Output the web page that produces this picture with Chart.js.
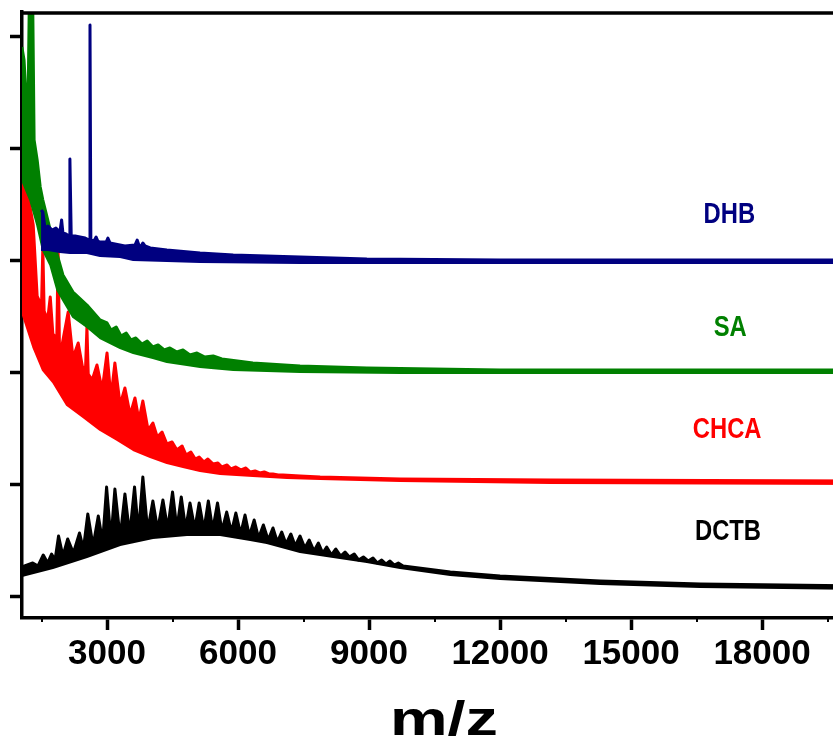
<!DOCTYPE html>
<html>
<head>
<meta charset="utf-8">
<title>MALDI matrix spectra</title>
<script src="https://cdn.jsdelivr.net/npm/chart.js@4.4.1/dist/chart.umd.min.js"></script>
<style>
  html, body { margin: 0; padding: 0; background: #fff; overflow: hidden; }
  #wrap { width: 880px; height: 750px; }
</style>
</head>
<body>
<div id="wrap"><canvas id="spectra" width="880" height="750"></canvas></div>
<script>
// m/z axis
const mzTicks = [3000, 6000, 9000, 12000, 15000, 18000];
const mzMinorTicks = [1500, 4500, 7500, 10500, 13500, 16500, 19500];
const mzTitle = 'm/z';
// offset intensity levels (arbitrary units), one tick per trace baseline step
const levelTicks = [0, 112, 224, 336, 448, 560];

const matrixNames = ['DHB', 'SA', 'CHCA', 'DCTB'];
const matrixColors = ['#000080', '#008000', '#ff0000', '#000000'];
const labelMz = [17250, 17270, 17200, 17220];
const labelLevel = [373, 260, 158, 56];

// each spectrum: upper edge (peaks and noise) and lower edge of the trace, [m/z, intensity]
const dhbTop = [
  [1490, 386], [1530, 384], [1580, 368], [1650, 370], [1740, 366], [1830, 368], [1920, 364],
  [1960, 376], [1990, 363], [2060, 362], [2130, 360], [2150, 437], [2180, 360], [2270, 360],
  [2380, 359], [2500, 358], [2590, 356], [2610, 571], [2630, 356], [2700, 355], [2750, 359],
  [2790, 355], [2840, 354], [2980, 354], [3020, 358], [3070, 353], [3180, 352], [3410, 350],
  [3640, 351], [3690, 356], [3730, 351], [3780, 350], [3820, 353], [3870, 350], [3990, 348],
  [4370, 346], [5130, 343], [5890, 341], [7420, 339], [8950, 337], [12000, 336], [20400, 336]
];
const dhbBase = [
  [1490, 346], [1650, 346], [1920, 344], [2150, 343], [2540, 343], [2840, 340], [3300, 339],
  [3600, 336], [4370, 335], [5130, 334], [7420, 333], [20400, 333]
];

const saTop = [
  [1050, 549], [1100, 536], [1150, 496], [1190, 484], [1230, 630], [1290, 630], [1330, 456],
  [1400, 436], [1470, 409], [1530, 396], [1700, 366], [1860, 341], [1990, 321], [2220, 304],
  [2540, 291], [2840, 276], [3000, 273], [3090, 266], [3210, 269], [3320, 260], [3440, 263],
  [3550, 256], [3660, 258], [3800, 252], [3920, 255], [4050, 249], [4170, 251], [4310, 246],
  [4440, 248], [4600, 244], [4740, 246], [4900, 241], [5060, 243], [5240, 239], [5430, 240],
  [5630, 237], [6340, 233], [7420, 230], [8950, 228], [12000, 226], [20400, 226]
];
const saBase = [
  [1050, 416], [1240, 396], [1400, 371], [1530, 346], [1700, 331], [1860, 306], [1990, 296],
  [2220, 279], [2540, 269], [2840, 258], [3300, 248], [3600, 243], [4050, 238], [4370, 234],
  [4830, 231], [5130, 229], [5890, 226], [7420, 224], [9710, 223], [20400, 223]
];

const chcaTop = [
  [1050, 424], [1190, 401], [1310, 371], [1400, 300], [1500, 290], [1530, 349], [1560, 285],
  [1640, 276], [1700, 299], [1760, 262], [1850, 258], [1880, 346], [1910, 252], [1970, 251],
  [2110, 284], [2220, 238], [2340, 253], [2450, 226], [2510, 230], [2540, 269], [2570, 222],
  [2660, 216], [2770, 231], [2890, 206], [3000, 243], [3090, 198], [3180, 233], [3300, 191],
  [3410, 208], [3530, 181], [3640, 198], [3730, 176], [3820, 195], [3940, 166], [4050, 173],
  [4150, 159], [4260, 164], [4370, 152], [4490, 154], [4600, 146], [4720, 150], [4810, 141],
  [4920, 144], [5020, 137], [5110, 139], [5220, 134], [5310, 137], [5430, 132], [5540, 133],
  [5630, 129], [5750, 131], [5840, 127], [5950, 129], [6070, 126], [6180, 128], [6280, 124],
  [6390, 125], [6500, 123], [6600, 124], [6710, 122], [6800, 122], [6920, 121], [7030, 121],
  [7420, 120], [7880, 119], [9710, 117], [13150, 116], [20400, 115]
];
const chcaBase = [
  [1050, 284], [1310, 249], [1530, 226], [1760, 214], [2080, 191], [2450, 179], [2840, 166],
  [3230, 156], [3600, 146], [3990, 139], [4370, 133], [4740, 129], [5130, 125], [5590, 122],
  [6340, 120], [7120, 118], [7880, 117], [9710, 115], [13150, 113], [20400, 112]
];

const dctbTop = [
  [1050, 29], [1300, 33], [1420, 30], [1540, 41], [1640, 33], [1730, 42], [1810, 36],
  [1890, 60], [1990, 40], [2100, 57], [2230, 43], [2370, 63], [2460, 47], [2560, 82],
  [2680, 50], [2800, 80], [2900, 54], [2990, 109], [3090, 56], [3180, 107], [3300, 58],
  [3410, 102], [3520, 61], [3630, 109], [3720, 63], [3820, 119], [3930, 65], [4050, 95],
  [4160, 66], [4280, 96], [4390, 67], [4500, 104], [4600, 67], [4700, 99], [4800, 67],
  [4900, 93], [5010, 67], [5110, 93], [5220, 66], [5320, 95], [5420, 66], [5530, 93],
  [5630, 65], [5740, 84], [5850, 64], [5950, 83], [6060, 62], [6160, 81], [6260, 60],
  [6370, 76], [6470, 58], [6580, 71], [6690, 56], [6800, 68], [6900, 54], [7000, 64],
  [7100, 52], [7210, 62], [7310, 50], [7420, 60], [7530, 48], [7630, 56], [7740, 45],
  [7840, 53], [7940, 43], [8030, 49], [8140, 41], [8240, 47], [8350, 40], [8450, 44],
  [8550, 39], [8660, 42], [8760, 36], [8870, 39], [8980, 35], [9090, 38], [9190, 33],
  [9290, 36], [9390, 32], [9480, 35], [9580, 31], [9670, 33], [9780, 30], [10860, 24],
  [12000, 20], [14290, 15], [16580, 12], [20400, 10]
];
const dctbBase = [
  [1050, 20], [1760, 28], [2540, 39], [3300, 51], [4050, 58], [4830, 61], [5590, 61],
  [6280, 56], [6660, 53], [7420, 44], [8180, 39], [8950, 34], [9710, 28], [10860, 21],
  [12000, 17], [14290, 12], [16580, 9], [20400, 7]
];

const spectra = [
  [dhbTop, dhbBase],
  [saTop, saBase],
  [chcaTop, chcaBase],
  [dctbTop, dctbBase]
];

// upper edge is filled down to the lower edge so each trace reads as one thick band
const datasets = [];
spectra.forEach(([top, base], i) => {
  const common = {
    borderColor: matrixColors[i],
    backgroundColor: matrixColors[i],
    borderJoinStyle: 'round',
    pointRadius: 0,
    tension: 0
  };
  datasets.push({ ...common, label: matrixNames[i], data: top, borderWidth: 3, fill: '+1' });
  datasets.push({ ...common, label: matrixNames[i] + ' base', data: base, borderWidth: 2, fill: false });
});

const traceLabels = {
  id: 'traceLabels',
  afterDatasetsDraw(chart) {
    const { ctx, scales: { x, y } } = chart;
    ctx.save();
    ctx.font = 'bold 29px "Liberation Sans", Arial, sans-serif';
    ctx.textAlign = 'center';
    ctx.textBaseline = 'alphabetic';
    matrixNames.forEach((name, i) => {
      ctx.save();
      ctx.translate(x.getPixelForValue(labelMz[i]), y.getPixelForValue(labelLevel[i]));
      ctx.scale(0.82, 1);
      ctx.fillStyle = matrixColors[i];
      ctx.fillText(name, 0, 0);
      ctx.restore();
    });
    ctx.restore();
  }
};

// top frame line, small in-between ticks and the wide axis title
const frame = {
  id: 'frame',
  afterDraw(chart) {
    const { ctx, chartArea: a, scales: { x } } = chart;
    ctx.save();
    ctx.strokeStyle = '#000';
    ctx.lineWidth = 3.5;
    ctx.beginPath();
    ctx.moveTo(a.left - 1.75, a.top + 1);
    ctx.lineTo(a.right + 1.75, a.top + 1);
    ctx.stroke();
    ctx.lineWidth = 2;
    ctx.beginPath();
    mzMinorTicks.forEach(v => {
      const px = Math.round(x.getPixelForValue(v));
      ctx.moveTo(px, a.bottom);
      ctx.lineTo(px, a.bottom + 4);
    });
    ctx.stroke();

    ctx.translate((a.left + a.right) / 2, a.bottom + 117);
    ctx.scale(1.35, 1);
    ctx.font = 'bold 48px "Liberation Sans", Arial, sans-serif';
    ctx.textAlign = 'center';
    ctx.textBaseline = 'alphabetic';
    ctx.fillStyle = '#000';
    ctx.fillText(mzTitle, 0, 0);
    ctx.restore();
  }
};

const ctx = document.getElementById('spectra').getContext('2d');
const chart = new Chart(ctx, {
  type: 'line',
  data: { datasets },
  plugins: [traceLabels, frame],
  options: {
    responsive: false,
    animation: false,
    devicePixelRatio: 1,
    layout: { padding: { left: 10, top: 12, right: 14, bottom: 0 } },
    plugins: {
      legend: { display: false },
      tooltip: { enabled: false },
      filler: { propagate: false }
    },
    scales: {
      x: {
        type: 'linear',
        min: 1053,
        max: 20380,
        afterBuildTicks: scale => { scale.ticks = mzTicks.map(v => ({ value: v })); },
        afterFit: scale => { scale.height = 132; },
        grid: { drawOnChartArea: false, tickLength: 12, tickWidth: 3.5, tickColor: '#000' },
        border: { display: true, width: 3.5, color: '#000' },
        ticks: {
          color: '#000',
          padding: 7,
          maxRotation: 0,
          autoSkip: false,
          callback: v => String(v),
          font: { family: '"Liberation Sans", Arial, sans-serif', size: 35, weight: 'bold', lineHeight: 1 }
        }
      },
      y: {
        type: 'linear',
        min: -22,
        max: 584,
        afterBuildTicks: scale => { scale.ticks = levelTicks.map(v => ({ value: v })); },
        afterFit: scale => { scale.width = 12; },
        grid: { drawOnChartArea: false, tickLength: 12, tickWidth: 3.5, tickColor: '#000' },
        border: { display: true, width: 3.5, color: '#000' },
        ticks: { display: false }
      }
    }
  }
});
</script>
</body>
</html>
